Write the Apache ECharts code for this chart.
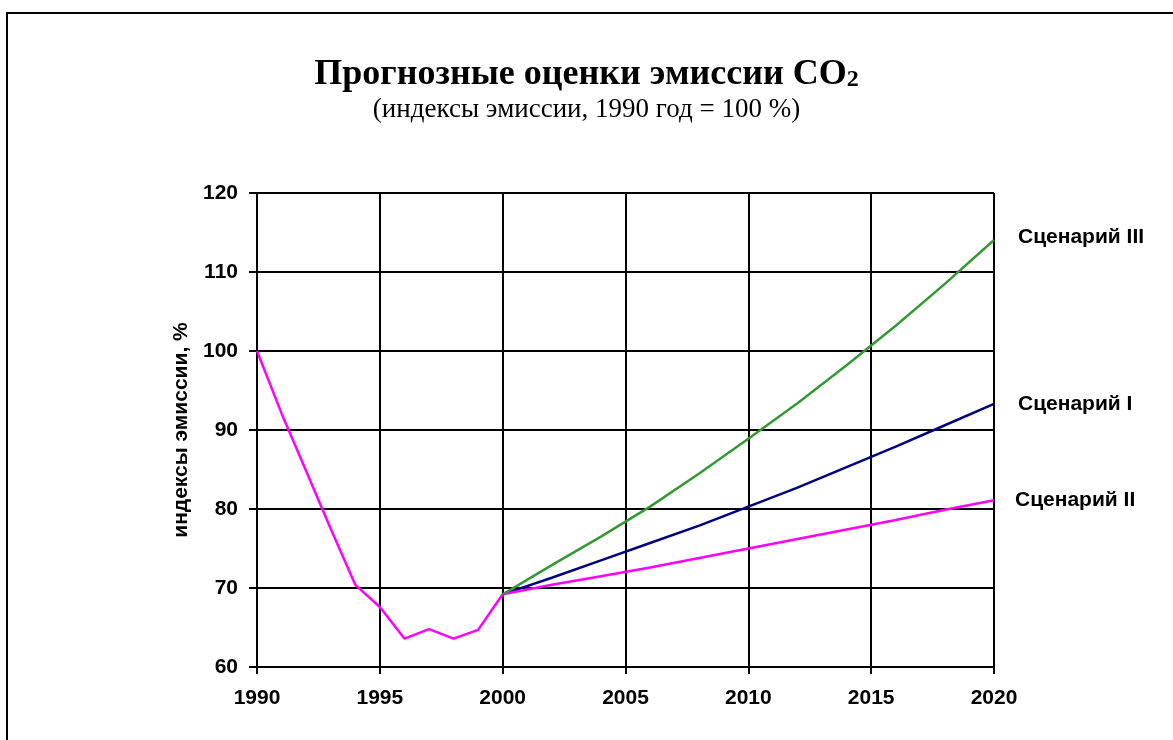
<!DOCTYPE html>
<html>
<head>
<meta charset="utf-8">
<script src="https://cdn.jsdelivr.net/npm/echarts@6/dist/echarts.min.js"></script>
<style>
html,body{margin:0;padding:0;background:#fff;}
#c{width:1173px;height:740px;}
</style>
</head>
<body>
<div id="c"></div>
<script>
// ---- data ----
const histYears  = [1990, 1991, 1992, 1993, 1994, 1995, 1996, 1997, 1998, 1999, 2000];
const histValues = [100, 92.1, 84.8, 77.5, 70.4, 67.6, 63.6, 64.8, 63.6, 64.7, 69.2];
const projYears  = [2000, 2002, 2004, 2006, 2008, 2010, 2012, 2014, 2016, 2018, 2020];
const scen1 = [69.2, 71.3, 73.5, 75.7, 77.9, 80.3, 82.7, 85.3, 87.9, 90.6, 93.3];
const scen2 = [69.2, 70.4, 71.5, 72.6, 73.8, 75.0, 76.2, 77.4, 78.6, 79.9, 81.1];
const scen3 = [69.2, 72.9, 76.5, 80.3, 84.5, 88.9, 93.4, 98.2, 103.2, 108.5, 114.05];
const seriesNames = ['Сценарий I', 'Сценарий II', 'Сценарий III'];
const titleText = 'Прогнозные оценки эмиссии CO';
const subtitleText = '(индексы эмиссии, 1990 год = 100 %)';
const yAxisName = 'индексы эмиссии, %';

const pairs = (xs, ys) => xs.map((x, i) => [x, ys[i]]);

const chart = echarts.init(document.getElementById('c'), null, {renderer: 'canvas'});
const lblFont = {fontFamily: 'Liberation Sans, Arial, sans-serif', fontWeight: 'bold', fontSize: 21, color: '#000'};
const endLbl = (dx, dy) => ({show: true, formatter: '{a}', offset: [dx, dy], ...lblFont});
const serif = 'Liberation Serif, Times New Roman, serif';

chart.setOption({
  backgroundColor: '#fff',
  animation: false,
  title: [{
    text: '{a|' + titleText + '}{b|2}',
    left: 'center', top: 52,
    textStyle: {
      rich: {
        a: {fontFamily: serif, fontWeight: 'bold', fontSize: 36, color: '#000'},
        b: {fontFamily: serif, fontWeight: 'bold', fontSize: 24, color: '#000', padding: [9, 0, 0, 0]}
      }
    }
  }, {
    text: subtitleText,
    left: 'center', top: 91,
    textStyle: {fontFamily: serif, fontWeight: 'normal', fontSize: 27, color: '#000'}
  }],
  graphic: [{
    type: 'rect', shape: {x: 7, y: 13, width: 1200, height: 800},
    style: {fill: 'none', stroke: '#000', lineWidth: 2}, silent: true
  }],
  grid: {left: 257, right: 179, top: 193, bottom: 73},
  xAxis: {
    type: 'value', min: 1990, max: 2020, interval: 5,
    axisLine: {show: true, lineStyle: {color: '#000', width: 2}},
    axisTick: {show: true, length: 7, lineStyle: {color: '#000', width: 2}},
    axisLabel: {margin: 21, formatter: v => String(v), ...lblFont},
    splitLine: {show: true, lineStyle: {color: '#000', width: 2}}
  },
  yAxis: {
    type: 'value', min: 60, max: 120, interval: 10,
    name: yAxisName, nameLocation: 'middle', nameGap: 59, nameRotate: 90,
    nameTextStyle: {fontFamily: 'Liberation Sans, Arial, sans-serif', fontWeight: 'bold', fontSize: 21, color: '#000'},
    axisLine: {show: true, lineStyle: {color: '#000', width: 2}},
    axisTick: {show: true, length: 8, lineStyle: {color: '#000', width: 2}},
    axisLabel: {margin: 19, ...lblFont},
    splitLine: {show: true, lineStyle: {color: '#000', width: 2}}
  },
  series: [{
    type: 'line', data: pairs(histYears, histValues), showSymbol: false, symbol: 'none',
    lineStyle: {color: '#FF00FF', width: 2.5}, z: 3
  }, {
    name: seriesNames[0], type: 'line', data: pairs(projYears, scen1), symbol: 'none',
    lineStyle: {color: '#000080', width: 2.5}, endLabel: endLbl(16, 0), z: 3
  }, {
    name: seriesNames[1], type: 'line', data: pairs(projYears, scen2), symbol: 'none',
    lineStyle: {color: '#FF00FF', width: 2.5}, endLabel: endLbl(13, 0), z: 3
  }, {
    name: seriesNames[2], type: 'line', data: pairs(projYears, scen3), symbol: 'none',
    lineStyle: {color: '#339933', width: 2.5}, endLabel: endLbl(16, -3), z: 3
  }]
});
</script>
</body>
</html>
